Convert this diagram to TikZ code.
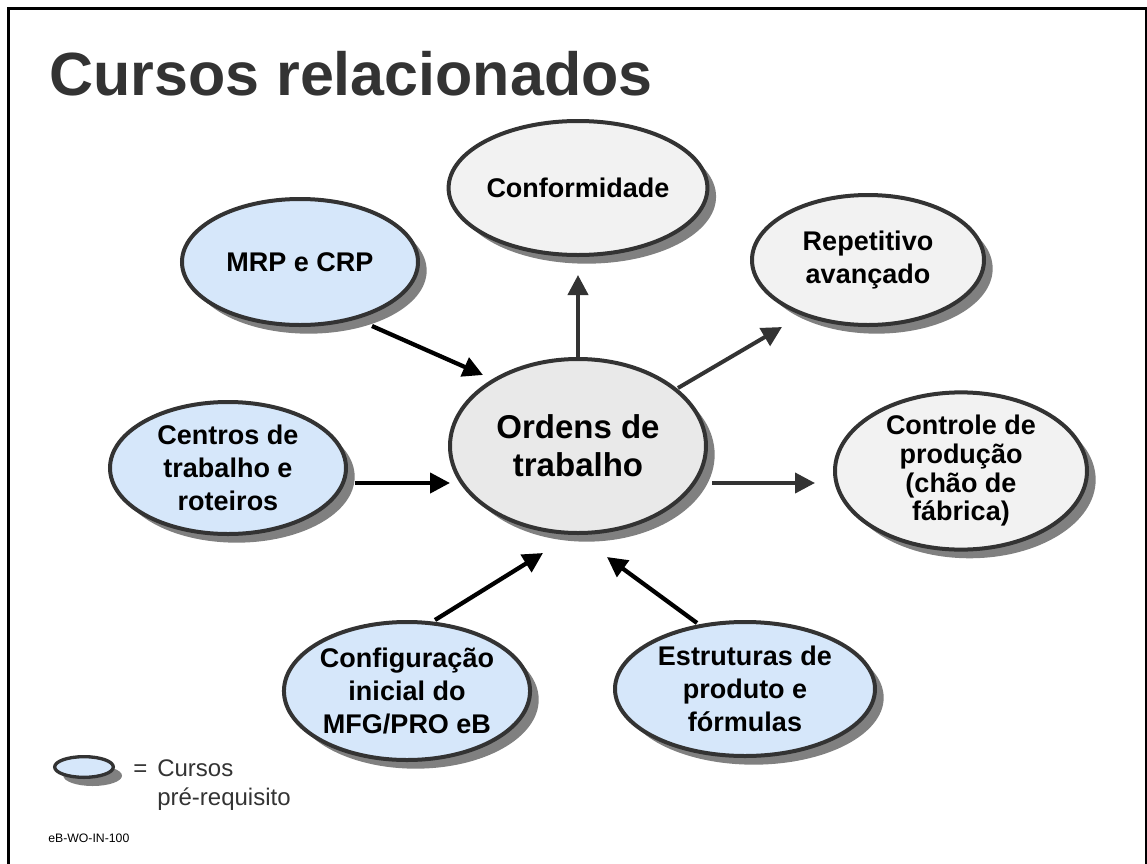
\documentclass[tikz,border=0pt]{standalone}
\usepackage{fontspec}
\setmainfont{Liberation Sans}
\usetikzlibrary{arrows.meta}
\usetikzlibrary{shapes.geometric}
\usetikzlibrary{shadows}

\begin{document}
\begin{tikzpicture}[x=0.75pt,y=0.75pt,yscale=-1,xscale=1,
  oval/.style={ellipse,draw={rgb, 255:red, 51; green, 51; blue, 51},line width=3pt,inner sep=0pt,outer sep=0pt,align=center,
    font=\bfseries\fontsize{20.25}{24.75}\selectfont,
    drop shadow={shadow xshift=6.5pt,shadow yshift=-6.5pt,fill={rgb, 255:red, 128; green, 128; blue, 128},opacity=1}},
  prereq/.style={oval,fill={rgb, 255:red, 214; green, 231; blue, 250}},
  related/.style={oval,fill={rgb, 255:red, 242; green, 242; blue, 242}},
  inarrow/.style={line width=3.2pt,-{Triangle[length=15pt,width=15pt]}},
  outarrow/.style={inarrow,line width=3pt,draw={rgb, 255:red, 51; green, 51; blue, 51}}
]
\useasboundingbox (0,0) rectangle (1147,864);

%Straight Lines [frame]
\draw [line width=2.25pt]  (8,864) -- (8,8) -- (1146,8) -- (1146,864) ;

% Text Node
\draw (49,95) node [anchor=base west][inner sep=0pt]  [color={rgb, 255:red, 51; green, 51; blue, 51 }]  (title) {\fontsize{45.75}{55}\selectfont\bfseries Cursos relacionados};

%Shape: Ellipse [prerequisites]
\draw (300,262) node [prereq, minimum width=177pt, minimum height=94.5pt] (mrp) {MRP e CRP};
\draw (228,468) node [prereq, minimum width=177pt, minimum height=99pt] (cent) {Centros de\\trabalho e\\roteiros};
\draw (407,691) node [prereq, minimum width=180pt, minimum height=103.5pt] (cfg) {Configuração\\inicial do\\MFG/PRO eB};
\draw (745,689) node [prereq, minimum width=195pt, minimum height=100.5pt] (est) {Estruturas de\\produto e\\fórmulas};

%Shape: Ellipse [center]
\draw (578,446) node [related, fill={rgb, 255:red, 233; green, 233; blue, 233}, minimum width=192pt, minimum height=130.5pt, font=\bfseries\fontsize{24.75}{28.5}\selectfont] (ord) {Ordens de\\trabalho};

%Shape: Ellipse [related]
\draw (578,188) node [related, minimum width=190.5pt, minimum height=100.5pt] (conf) {Conformidade};
\draw (868,260) node [related, minimum width=174pt, minimum height=97.5pt] (rep) {Repetitivo\\avançado};
\draw (961,471) node [related, minimum width=189pt, minimum height=108pt, font=\bfseries\fontsize{20.25}{21.5}\selectfont] (ctrl) {Controle de\\produção\\(chão de\\fábrica)};

%Straight Lines [incoming]
\draw [inarrow]  ([shift={(72,64)}]mrp.center) -- ([shift={(-95,-71)}]ord.center) ;
\draw [inarrow]  ([shift={(127,15)}]cent.center) -- ([shift={(-128,37)}]ord.center) ;
\draw [inarrow]  ([shift={(28,-71)}]cfg.center) -- ([shift={(-35,107)}]ord.center) ;
\draw [inarrow]  ([shift={(-48,-66)}]est.center) -- ([shift={(29,111)}]ord.center) ;
%Straight Lines [outgoing]
\draw [outarrow]  (ord.north) -- ([shift={(0,87)}]conf.center) ;
\draw [outarrow]  ([shift={(100,-58)}]ord.center) -- ([shift={(-86,67)}]rep.center) ;
\draw [outarrow]  ([shift={(134,37)}]ord.center) -- ([shift={(-146,12)}]ctrl.center) ;

%Shape: Ellipse [legend]
\draw (84,767) node [prereq, line width=2.5pt, minimum width=44pt, minimum height=15.5pt] (key) {};
% Text Node
\draw (133,776) node [anchor=base west][inner sep=0pt]  [color={rgb, 255:red, 51; green, 51; blue, 51 }]  (eq) {\fontsize{18}{21}\selectfont =};
% Text Node
\draw (157,776) node [anchor=base west][inner sep=0pt]  [color={rgb, 255:red, 51; green, 51; blue, 51 }]  (keya) {\fontsize{18}{21}\selectfont Cursos};
% Text Node
\draw (157,805) node [anchor=base west][inner sep=0pt]  [color={rgb, 255:red, 51; green, 51; blue, 51 }]  (keyb) {\fontsize{18}{21}\selectfont pré-requisito};
% Text Node
\draw (48,842) node [anchor=base west][inner sep=0pt]  (code) {\fontsize{9.2}{11}\selectfont eB-WO-IN-100};

\end{tikzpicture}
\end{document}
